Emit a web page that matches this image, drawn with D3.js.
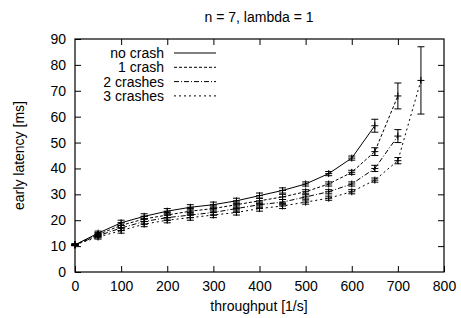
<!DOCTYPE html>
<html>
<head>
<meta charset="utf-8">
<script src="https://cdn.jsdelivr.net/npm/d3@7"></script>
<style>
  body { margin: 0; background: #fff; }
  svg { font-family: "Liberation Sans", Arial, sans-serif; font-size: 14px; }
</style>
</head>
<body>
<div id="chart"></div>
<script>
// values
var seriesNames = ['no crash', '1 crash', '2 crashes', '3 crashes'];
var noCrashX = [0, 50, 100, 150, 200, 250, 300, 350, 400, 450, 500, 550, 600, 650];
var noCrashY = [10.5, 15, 19, 21.5, 23.5, 25, 26, 27.5, 29.5, 31.5, 34, 38, 44, 56.5];
var noCrashE = [0.3, 0.8, 1, 1, 1, 1, 1, 1, 1, 1, 0.8, 0.8, 0.8, 2.5];
var crash1X = [0, 50, 100, 150, 200, 250, 300, 350, 400, 450, 500, 550, 600, 650, 700];
var crash1Y = [10.5, 14.5, 18, 20.5, 22, 23.5, 24.5, 26, 27.5, 29, 31, 34, 38.5, 46.5, 68];
var crash1E = [0.3, 0.8, 1, 1, 1, 1, 1, 1, 1, 1, 0.8, 0.8, 0.8, 1.5, 5];
var crash2X = [0, 50, 100, 150, 200, 250, 300, 350, 400, 450, 500, 550, 600, 650, 700];
var crash2Y = [10.5, 14, 17, 19.5, 21, 22, 23, 24.5, 26, 27, 29, 31, 34, 40, 52.5];
var crash2E = [0.3, 0.8, 1, 1, 1, 1, 1, 1, 1, 1, 0.8, 0.8, 0.8, 1.2, 2.5];
var crash3X = [0, 50, 100, 150, 200, 250, 300, 350, 400, 450, 500, 550, 600, 650, 700, 750];
var crash3Y = [10.5, 13.5, 16, 18.5, 20, 21, 22, 23, 24.5, 25.5, 27, 28.5, 31, 35.5, 43, 74];
var crash3E = [0.3, 0.8, 1, 1, 1, 1, 1, 1, 1, 1, 0.8, 0.8, 0.8, 0.8, 1.2, 13];
var xTicks = [0, 100, 200, 300, 400, 500, 600, 700, 800];
var yTicks = [0, 10, 20, 30, 40, 50, 60, 70, 80, 90];

var dashes = [null, '3,2', '5,2,1,2', '2,3'];
var allX = [noCrashX, crash1X, crash2X, crash3X];
var allY = [noCrashY, crash1Y, crash2Y, crash3Y];
var allE = [noCrashE, crash1E, crash2E, crash3E];

var width = 461, height = 318;
var plotLeft = 75, plotRight = 444, plotTop = 39, plotBottom = 272;

var svg = d3.select('#chart').append('svg')
  .attr('width', width)
  .attr('height', height);

var x = d3.scaleLinear().domain([0, 800]).range([plotLeft, plotRight]);
var y = d3.scaleLinear().domain([0, 90]).range([plotBottom, plotTop]);

// ticks on all four sides, pointing inward
var tick = 6;
function plainLabels(g) {
  g.attr('font-size', null).attr('font-family', null);
  g.select('.domain').remove();
}
svg.append('g')
  .attr('transform', 'translate(0,' + plotBottom + ')')
  .call(d3.axisBottom(x).tickValues(xTicks).tickSizeInner(-tick).tickSizeOuter(0).tickPadding(9))
  .call(plainLabels);
svg.append('g')
  .attr('transform', 'translate(0,' + plotTop + ')')
  .call(d3.axisTop(x).tickValues(xTicks.slice(1, -1)).tickSizeInner(-tick).tickSizeOuter(0).tickFormat(''))
  .call(plainLabels);
svg.append('g')
  .attr('transform', 'translate(' + plotLeft + ',0)')
  .call(d3.axisLeft(y).tickValues(yTicks).tickSizeInner(-tick).tickSizeOuter(0).tickPadding(9))
  .call(plainLabels);
svg.append('g')
  .attr('transform', 'translate(' + plotRight + ',0)')
  .call(d3.axisRight(y).tickValues(yTicks.slice(1, -1)).tickSizeInner(-tick).tickSizeOuter(0).tickFormat(''))
  .call(plainLabels);

svg.append('rect')
  .attr('x', plotLeft).attr('y', plotTop)
  .attr('width', plotRight - plotLeft).attr('height', plotBottom - plotTop)
  .attr('fill', 'none').attr('stroke', '#000').attr('stroke-width', 1.2);

// data
var line = d3.line()
  .x(function(d) { return x(d[0]); })
  .y(function(d) { return y(d[1]); });

seriesNames.forEach(function(name, s) {
  var pts = allX[s].map(function(v, i) { return [v, allY[s][i], allE[s][i]]; });
  var g = svg.append('g').attr('stroke', '#000').attr('fill', 'none');
  g.append('path')
    .attr('d', line(pts))
    .attr('stroke-width', 1)
    .attr('stroke-dasharray', dashes[s]);
  pts.forEach(function(p) {
    var px = x(p[0]), py = y(p[1]), lo = y(p[1] - p[2]), hi = y(p[1] + p[2]);
    g.append('line').attr('x1', px).attr('x2', px).attr('y1', lo).attr('y2', hi);
    g.append('line').attr('x1', px - 3.5).attr('x2', px + 3.5).attr('y1', lo).attr('y2', lo);
    g.append('line').attr('x1', px - 3.5).attr('x2', px + 3.5).attr('y1', hi).attr('y2', hi);
    // '+' point
    g.append('line').attr('x1', px - 3.5).attr('x2', px + 3.5).attr('y1', py).attr('y2', py);
    g.append('line').attr('x1', px).attr('x2', px).attr('y1', py - 3.5).attr('y2', py + 3.5);
  });
});

// legend
seriesNames.forEach(function(name, s) {
  var ly = 53 + s * 14.3;
  svg.append('text')
    .attr('x', 164).attr('y', ly).attr('dy', '0.35em')
    .attr('text-anchor', 'end')
    .text(name);
  svg.append('line')
    .attr('x1', 174).attr('x2', 216).attr('y1', ly).attr('y2', ly)
    .attr('stroke', '#000').attr('stroke-width', 1)
    .attr('stroke-dasharray', dashes[s]);
});

// titles
svg.append('text')
  .attr('x', 259).attr('y', 22)
  .attr('text-anchor', 'middle')
  .text('n = 7, lambda = 1');
svg.append('text')
  .attr('x', 259).attr('y', 311)
  .attr('text-anchor', 'middle')
  .text('throughput [1/s]');
svg.append('text')
  .attr('transform', 'translate(24,' + ((plotTop + plotBottom) / 2) + ') rotate(-90)')
  .attr('text-anchor', 'middle')
  .text('early latency [ms]');
</script>
</body>
</html>
